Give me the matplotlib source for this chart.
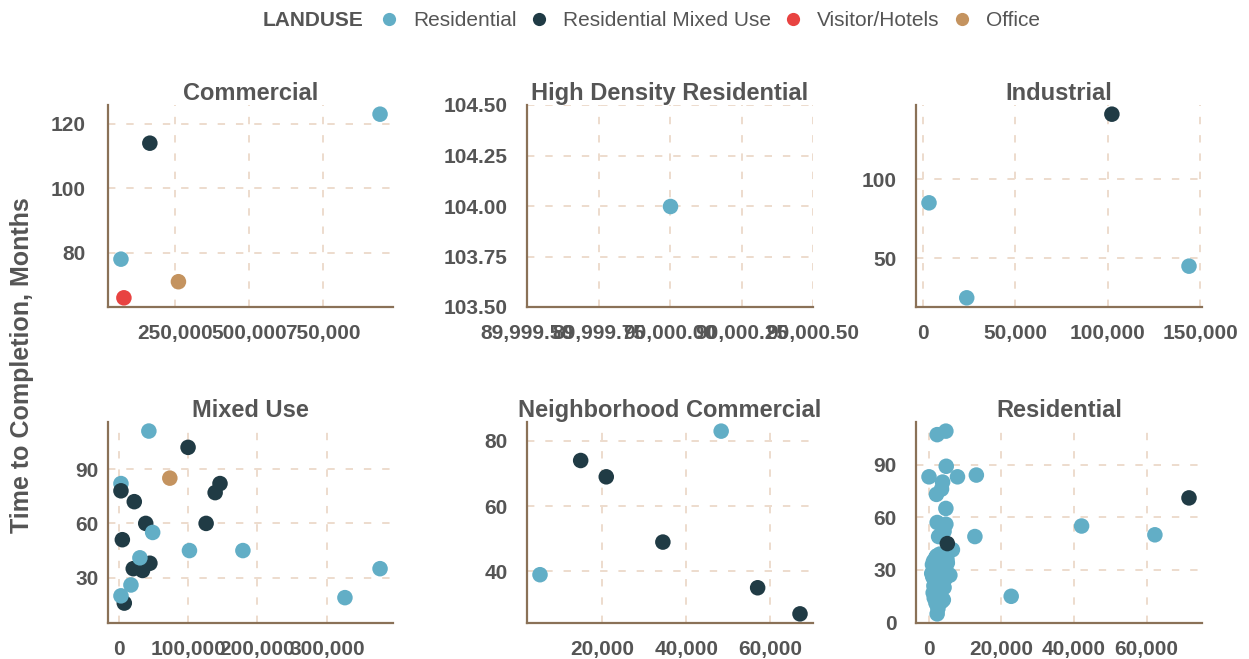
import matplotlib
matplotlib.use("Agg")
import matplotlib.pyplot as plt
from matplotlib.lines import Line2D
from matplotlib.ticker import MultipleLocator, FuncFormatter

plt.rcParams['font.family'] = ['Liberation Sans', 'DejaVu Sans']

# colours per land use
landuse_names = ['Residential', 'Residential Mixed Use', 'Visitor/Hotels', 'Office']
landuse_colors = ['#62aec6', '#203b45', '#e84341', '#c4935f']

# facet titles (zoning district)
facets = ['Commercial', 'High Density Residential', 'Industrial',
          'Mixed Use', 'Neighborhood Commercial', 'Residential']

# Commercial
commercial_units = [944000, 163000, 65000, 75000, 260000]
commercial_months = [123, 114, 78, 66, 71]
commercial_use = ['Residential', 'Residential Mixed Use', 'Residential', 'Visitor/Hotels', 'Office']

# High Density Residential
hdr_units = [90000]
hdr_months = [104]
hdr_use = ['Residential']

# Industrial
industrial_units = [3400, 23800, 102300, 144000]
industrial_months = [85, 25, 141, 45]
industrial_use = ['Residential', 'Residential', 'Residential Mixed Use', 'Residential']

# Mixed Use
mixed_units = [43500, 100000, 73700, 3300, 3300, 22500, 146000, 139000, 39000, 49000,
               126000, 5300, 102000, 179000, 21000, 34400, 45000, 30600, 376600, 326000,
               17700, 8100, 3300]
mixed_months = [111, 102, 85, 82, 78, 72, 82, 77, 60, 55,
                60, 51, 45, 45, 35, 34, 38, 41, 35, 19,
                26, 16, 20]
mixed_use = ['Residential', 'Residential Mixed Use', 'Office', 'Residential', 'Residential Mixed Use',
             'Residential Mixed Use', 'Residential Mixed Use', 'Residential Mixed Use',
             'Residential Mixed Use', 'Residential', 'Residential Mixed Use', 'Residential Mixed Use',
             'Residential', 'Residential', 'Residential Mixed Use', 'Residential Mixed Use',
             'Residential Mixed Use', 'Residential', 'Residential', 'Residential',
             'Residential', 'Residential Mixed Use', 'Residential']

# Neighborhood Commercial
nc_units = [5100, 14800, 20900, 48300, 34400, 57000, 67100]
nc_months = [39, 74, 69, 83, 49, 35, 27]
nc_use = ['Residential', 'Residential Mixed Use', 'Residential Mixed Use', 'Residential',
          'Residential Mixed Use', 'Residential Mixed Use', 'Residential Mixed Use']

# Residential
res_units = [2300, 4700, 4800, 50, 3800, 3500, 7900, 13100, 2100, 4700,
             2300, 4700, 4200, 2700, 12700, 6500, 42100, 62300, 22700,
             2300, 2500, 2000, 3500, 4000, 1500, 2800, 1200, 3000, 2200,
             4200, 1400, 3300, 2600, 1800, 4500, 1100, 5800, 2900, 3600,
             800, 2100, 4700, 1600, 3200, 2400, 5100, 1300, 3800, 2700,
             1900, 4300, 2200, 3000, 5000, 4000, 1000, 3400, 2500, 1700,
             5100, 71700]
res_months = [107, 109, 89, 83, 80, 76, 83, 84, 73, 65,
              57, 56, 52, 49, 49, 41.5, 55, 50, 15,
              5, 8, 11, 12, 13, 14, 15, 17, 18, 19,
              20, 21, 22, 23, 24, 25, 26, 27, 27, 28,
              28, 29, 30, 31, 32, 33, 34, 35, 35, 36,
              37, 38, 38, 39, 36, 31, 33, 25, 30, 16,
              45, 71]
res_use = ['Residential'] * 59 + ['Residential Mixed Use', 'Residential Mixed Use']

facet_data = [
    (commercial_units, commercial_months, commercial_use),
    (hdr_units, hdr_months, hdr_use),
    (industrial_units, industrial_months, industrial_use),
    (mixed_units, mixed_months, mixed_use),
    (nc_units, nc_months, nc_use),
    (res_units, res_months, res_use),
]

# tick spacing (x, y) for each facet
tick_steps = [(250000, 20), (0.25, 0.25), (50000, 50),
              (100000, 30), (20000, 20), (20000, 30)]
ylabel_pad = [16, 14, 14, 7, 14, 14]
# fixed y range where autoscaling is not wanted
ylims = [None, None, None, (5, 116), None, None]

text_grey = '#555555'
grid_col = '#eddccd'
spine_col = '#8a7157'

W, H = 1249, 659
fig = plt.figure(figsize=(W / 100, H / 100), dpi=100)

# panel boxes in pixels: left, right, top, bottom
col_edges = [(108, 393), (527, 813), (916, 1202)]
row_edges = [(105, 307), (422, 623)]
axes = []
for top, bottom in row_edges:
    for left, right in col_edges:
        axes.append(fig.add_axes([left / W, 1 - bottom / H, (right - left) / W, (bottom - top) / H]))

color_of = dict(zip(landuse_names, landuse_colors))

for i, ax in enumerate(axes):
    xs, ys, uses = facet_data[i]
    ax.scatter(xs, ys, c=[color_of[u] for u in uses], s=125, linewidths=0, zorder=3)

    if len(xs) == 1:
        ax.set_xlim(xs[0] - 0.5, xs[0] + 0.5)
        ax.set_ylim(ys[0] - 0.5, ys[0] + 0.5)
        fmt = lambda v, p: f'{v:,.2f}'
        yfmt = lambda v, p: f'{v:.2f}'
    else:
        ax.margins(0.05)
        fmt = lambda v, p: f'{v:,.0f}'
        yfmt = lambda v, p: f'{v:.0f}'
    if ylims[i] is not None:
        ax.set_ylim(*ylims[i])

    xstep, ystep = tick_steps[i]
    ax.xaxis.set_major_locator(MultipleLocator(xstep))
    ax.yaxis.set_major_locator(MultipleLocator(ystep))
    ax.xaxis.set_major_formatter(FuncFormatter(fmt))
    ax.yaxis.set_major_formatter(FuncFormatter(yfmt))

    ax.grid(True, color=grid_col, linewidth=1.4, linestyle=(0, (3.8, 5.6)), zorder=0)
    ax.set_axisbelow(True)
    for side in ['top', 'right']:
        ax.spines[side].set_visible(False)
    for side in ['left', 'bottom']:
        ax.spines[side].set_color(spine_col)
        ax.spines[side].set_linewidth(1.6)

    ax.tick_params(axis='x', length=0, pad=12, labelsize=15, labelcolor=text_grey)
    ax.tick_params(axis='y', length=0, pad=ylabel_pad[i], labelsize=15, labelcolor=text_grey)
    for lab in ax.get_xticklabels() + ax.get_yticklabels():
        lab.set_fontweight('bold')

    ax.set_title(facets[i], fontsize=17, fontweight='bold', color=text_grey, pad=3)

fig.text(22 / W, 1 - 365 / H, 'Time to Completion, Months', rotation=90,
         ha='center', va='center', fontsize=18, fontweight='bold', color=text_grey)

# legend across the top
fig.text(363 / W, 1 - 21 / H, 'LANDUSE', ha='right', va='center',
         fontsize=15, fontweight='bold', color=text_grey)
handles = [Line2D([], [], linestyle='none', marker='o', markersize=9.5,
                  markerfacecolor=c, markeredgewidth=0) for c in landuse_colors]
leg = fig.legend(handles, landuse_names, loc='center left',
                 bbox_to_anchor=(381 / W, 1 - 21 / H), ncol=4, frameon=False,
                 fontsize=15, handlelength=0.8, handletextpad=0.75,
                 columnspacing=0.67, borderpad=0, borderaxespad=0)
for t in leg.get_texts():
    t.set_color(text_grey)

fig.savefig('out.png', dpi=100)
plt.close(fig)
